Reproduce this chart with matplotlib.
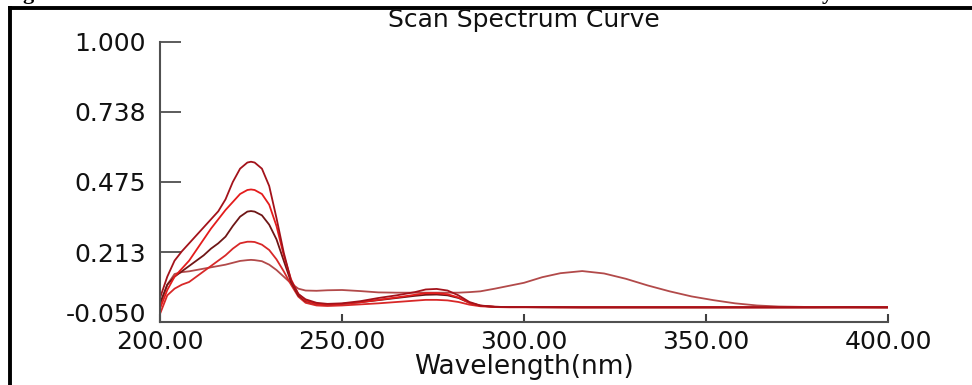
import matplotlib.pyplot as plt
from matplotlib.lines import Line2D
from matplotlib.transforms import ScaledTranslation

# wavelength grid (nm) used for all scans
wavelengths = [200, 202, 204, 206, 208, 210, 212, 214, 216, 218, 220, 222, 224, 225,
               226, 228, 230, 232, 234, 236, 238, 240, 243, 246, 250, 255, 260, 265,
               270, 273, 276, 279, 282, 285, 288, 292, 296, 300, 305, 310, 316, 322,
               328, 334, 340, 346, 352, 358, 364, 370, 380, 390, 400]

scan_a = [0.040, 0.120, 0.180, 0.215, 0.245, 0.275, 0.305, 0.335, 0.365, 0.410, 0.475,
          0.525, 0.548, 0.551, 0.548, 0.525, 0.460, 0.340, 0.210, 0.105, 0.055, 0.035,
          0.022, 0.018, 0.020, 0.028, 0.040, 0.050, 0.062, 0.072, 0.074, 0.068, 0.050,
          0.025, 0.012, 0.007, 0.006, 0.006, 0.006, 0.006, 0.005, 0.005, 0.005, 0.005,
          0.005, 0.005, 0.005, 0.005, 0.005, 0.005, 0.005, 0.006, 0.005]
scan_b = [0.000, 0.070, 0.120, 0.150, 0.180, 0.220, 0.260, 0.300, 0.335, 0.370, 0.400,
          0.430, 0.445, 0.447, 0.445, 0.430, 0.390, 0.310, 0.200, 0.110, 0.055, 0.030,
          0.018, 0.016, 0.018, 0.024, 0.033, 0.042, 0.052, 0.058, 0.058, 0.054, 0.042,
          0.022, 0.011, 0.007, 0.006, 0.006, 0.006, 0.005, 0.005, 0.005, 0.005, 0.005,
          0.005, 0.005, 0.005, 0.005, 0.005, 0.005, 0.005, 0.005, 0.005]
scan_c = [0.020, 0.090, 0.120, 0.140, 0.160, 0.180, 0.200, 0.225, 0.245, 0.270, 0.310,
          0.345, 0.364, 0.366, 0.364, 0.350, 0.315, 0.260, 0.180, 0.100, 0.050, 0.028,
          0.018, 0.016, 0.018, 0.024, 0.032, 0.040, 0.048, 0.052, 0.053, 0.050, 0.040,
          0.022, 0.011, 0.007, 0.006, 0.006, 0.005, 0.005, 0.005, 0.005, 0.005, 0.005,
          0.005, 0.005, 0.005, 0.005, 0.005, 0.005, 0.005, 0.005, 0.005]
scan_d = [-0.020, 0.050, 0.075, 0.090, 0.100, 0.120, 0.140, 0.160, 0.180, 0.200, 0.225,
          0.245, 0.251, 0.251, 0.250, 0.240, 0.220, 0.185, 0.140, 0.090, 0.045, 0.022,
          0.012, 0.010, 0.012, 0.016, 0.020, 0.025, 0.030, 0.033, 0.033, 0.031, 0.025,
          0.015, 0.009, 0.006, 0.005, 0.005, 0.005, 0.005, 0.005, 0.005, 0.005, 0.005,
          0.005, 0.005, 0.005, 0.005, 0.005, 0.005, 0.005, 0.005, 0.005]
scan_e = [0.010, 0.090, 0.130, 0.137, 0.140, 0.145, 0.150, 0.155, 0.160, 0.165, 0.172,
          0.179, 0.182, 0.183, 0.182, 0.178, 0.165, 0.145, 0.120, 0.095, 0.075, 0.068,
          0.067, 0.069, 0.070, 0.066, 0.061, 0.060, 0.060, 0.060, 0.060, 0.060, 0.060,
          0.062, 0.065, 0.075, 0.086, 0.097, 0.118, 0.133, 0.141, 0.132, 0.112, 0.087,
          0.065, 0.046, 0.032, 0.020, 0.012, 0.008, 0.006, 0.005, 0.005]

y_ticks = [-0.050, 0.2125, 0.475, 0.7375, 1.000]
y_labels = ["-0.050", "0.213", "0.475", "0.738", "1.000"]
x_ticks = [200, 250, 300, 350, 400]

W, H = 972, 385
fig = plt.figure(figsize=(W / 100, H / 100), dpi=100)
ax = fig.add_axes([160 / W, 1 - 322 / H, 728 / W, 280 / H])

series = [
    (scan_e, '#b24a4a'),
    (scan_d, '#d82828'),
    (scan_c, '#6e1616'),
    (scan_b, '#e41c1c'),
    (scan_a, '#a3121a'),
]
for vals, col in series:
    ax.plot(wavelengths, vals, color=col, lw=1.3)

ax.set_xlim(200, 400)
ax.set_ylim(-0.05, 1.0)
for s in ['top', 'right']:
    ax.spines[s].set_visible(False)
for s in ['left', 'bottom']:
    ax.spines[s].set_color('#505050')
    ax.spines[s].set_linewidth(1.5)

ax.set_yticks(y_ticks)
ax.set_yticklabels(y_labels)
ax.set_xticks(x_ticks)
ax.set_xticklabels([f"{v:.2f}" for v in x_ticks])
ax.tick_params(axis='y', direction='in', length=15, width=1.2, color='#404040',
               pad=10, labelsize=18, labelcolor='#111111')
ax.tick_params(axis='x', direction='in', length=6, width=1.5, color='#404040',
               pad=6, labelsize=18, labelcolor='#111111')
# bottom y label sits a little higher than its tick
lab = ax.get_yticklabels()[0]
lab.set_transform(lab.get_transform() + ScaledTranslation(0, 10 / 100, fig.dpi_scale_trans))

ax.set_xlabel("Wavelength(nm)", fontsize=19, color='#111111', labelpad=0)
fig.text(524 / W, 1 - 20 / H, "Scan Spectrum Curve", ha='center', va='center',
         fontsize=18, color='#111111')

# frame of the cropped page
fig.add_artist(Line2D([9.5 / W, 9.5 / W], [0, 1 - 6 / H], color='black', lw=2.8,
                      transform=fig.transFigure, solid_capstyle='butt'))
fig.add_artist(Line2D([8 / W, 1], [1 - 7.5 / H, 1 - 7.5 / H], color='black', lw=2.8,
                      transform=fig.transFigure, solid_capstyle='butt'))
# descenders of the caption line above, cut off by the crop
fig.text(22 / W, 1 + 1 / H, "g", va='baseline', fontsize=16, fontweight='bold',
         family='Liberation Serif')
fig.text(822 / W, 1 + 1 / H, "y", va='baseline', fontsize=16, fontweight='bold',
         family='Liberation Serif')

fig.savefig("out.png", dpi=100)
